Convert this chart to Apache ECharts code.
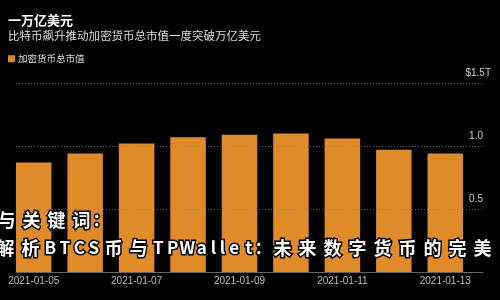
<!DOCTYPE html>
<html><head><meta charset="utf-8">
<script src="https://cdn.jsdelivr.net/npm/echarts@6/dist/echarts.min.js"></script>
<style>html,body{margin:0;padding:0;background:#000}#c{width:500px;height:300px}</style>
</head><body><div id="c"></div>
<script>
const titleText = '一万亿美元';
const subtitleText = '比特币飙升推动加密货币总市值一度突破万亿美元';
const seriesName = '加密货币总市值';
const categories = ['2021-01-05','2021-01-06','2021-01-07','2021-01-08','2021-01-09','2021-01-10','2021-01-11','2021-01-12','2021-01-13'];
const marketCap = [0.87, 0.94, 1.02, 1.07, 1.09, 1.10, 1.06, 0.97, 0.94];
const yTicks = [0, 0.5, 1.0, 1.5];
const yTickLabels = ['', '0.5', '1.0', '$1.5T'];
const overlayLine1 = '与关键词：';
const overlayLine2 = '解析BTCS币与TPWallet：未来数字货币的完美';

const FONT = '"Liberation Sans", "Noto Sans CJK SC", sans-serif';
const CJK = '"Noto Sans CJK SC", sans-serif';

function richify(s) {
  return s.split('').map(function (ch) {
    let k;
    if (ch === '：' || ch === ':' || ch === ';') k = 'p';
    else if (/[\u2E80-\uFFFF]/.test(ch)) k = 'c';
    else if (ch === 'l') k = 'n';
    else k = 'l';
    return '{' + k + '|' + ch + '}';
  }).join('');
}
const tokenBase = { fill: '#fff', stroke: '#000', lineWidth: 3, fontWeight: 'bold', fontFamily: CJK, align: 'center' };
const overlayRich = {
  c: Object.assign({}, tokenBase, { width: 25, fontSize: 18 }),
  l: Object.assign({}, tokenBase, { width: 14.5, fontSize: 17 }),
  n: Object.assign({}, tokenBase, { width: 9, fontSize: 17 }),
  p: Object.assign({}, tokenBase, { width: 14, fontSize: 17 })
};

const chart = echarts.init(document.getElementById('c'), null, { renderer: 'canvas' });
chart.setOption({
  backgroundColor: '#000',
  animation: false,
  textStyle: { fontFamily: FONT },
  title: {
    text: titleText,
    subtext: subtitleText,
    left: 3, top: 9, itemGap: 3,
    textStyle: { color: '#fff', fontSize: 13, fontWeight: 'bold', fontFamily: CJK },
    subtextStyle: { color: '#ddd', fontSize: 11.5, fontFamily: CJK }
  },
  legend: {
    data: [{ name: seriesName, icon: 'rect' }],
    left: 3, top: 49,
    itemWidth: 7, itemHeight: 7,
    textStyle: { color: '#ddd', fontSize: 9.5, fontFamily: CJK, padding: [0, 0, 0, -2] }
  },
  grid: [
    { left: 8, right: 29, top: 83, bottom: 28 },
    { left: 16, right: 17, top: 83, bottom: 28 }
  ],
  xAxis: [
    {
      type: 'category', gridIndex: 0, data: categories,
      axisLine: { show: false }, axisTick: { show: false },
      axisLabel: { interval: 1, color: '#bbb', fontSize: 10, margin: 4 }
    },
    {
      type: 'value', gridIndex: 1, min: 0, max: 1, z: 5,
      axisLine: { show: true, lineStyle: { color: '#666', width: 1 } },
      axisTick: { show: false }, axisLabel: { show: false }, splitLine: { show: false }
    }
  ],
  yAxis: [
    { type: 'value', gridIndex: 0, min: 0, max: 1.5, show: false },
    {
      type: 'value', gridIndex: 1, position: 'right', min: 0, max: 1.5, interval: 0.5, z: 5,
      axisLine: { show: false }, axisTick: { show: false },
      splitLine: { show: true, lineStyle: { color: 'rgba(130,130,130,0.7)', type: [1, 2], width: 1 } },
      axisLabel: {
        inside: false, margin: 8, align: 'right', verticalAlign: 'bottom', lineHeight: 20,
        color: '#ccc', fontSize: 10,
        formatter: function (v) {
          const i = yTicks.findIndex(function (t) { return Math.abs(t - v) < 1e-9; });
          const s = i >= 0 ? yTickLabels[i] : '';
          if (!s) return '';
          return /^[0-9.]+$/.test(s) ? '{n|' + s + '}' : '{t|' + s + '}';
        },
        rich: {
          n: { padding: [0, 8, 0, 0], lineHeight: 20, color: '#ccc', fontSize: 10 },
          t: { lineHeight: 20, color: '#ccc', fontSize: 10 }
        }
      }
    }
  ],
  series: [{
    name: seriesName, type: 'bar', xAxisIndex: 0, yAxisIndex: 0,
    data: marketCap, barWidth: '69%',
    itemStyle: { color: '#E08B2A' }
  }],
  graphic: [
    { type: 'text', x: -6, y: 220, z: 100,
      style: { text: richify(overlayLine1), rich: overlayRich, verticalAlign: 'middle', fill: '#fff' } },
    { type: 'text', x: -7, y: 248, z: 100,
      style: { text: richify(overlayLine2), rich: overlayRich, verticalAlign: 'middle', fill: '#fff' } }
  ]
});
</script>
</body></html>
